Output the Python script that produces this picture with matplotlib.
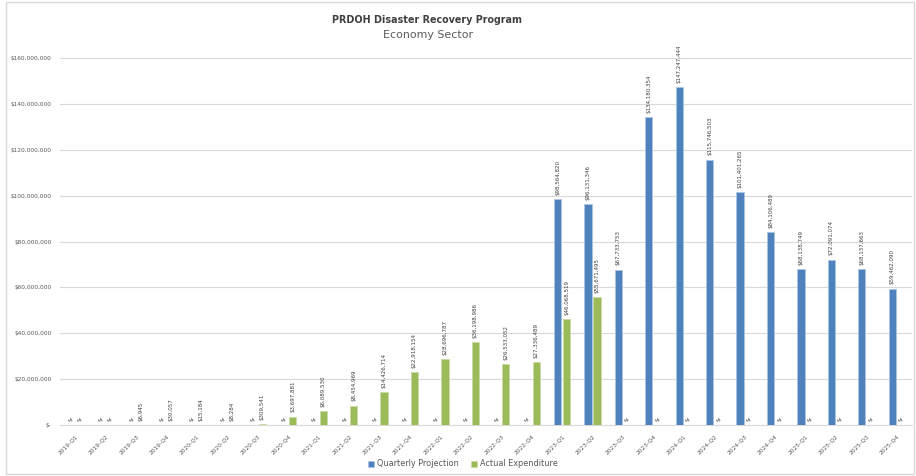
import matplotlib
matplotlib.use("Agg")
import matplotlib.pyplot as plt
from matplotlib.patches import Rectangle
import numpy as np

quarters = [f"{y}-Q{q}" for y in range(2019, 2026) for q in range(1, 5)]
projection = [0, 0, 0, 0, 0, 0, 0, 0, 0, 0, 0, 0, 0, 0, 0, 0,
              98564820, 96131346, 67733753, 134180354,
              147247444, 115746503, 101401265, 84106489,
              68138749, 72091074, 68137663, 59462090]
actual = [0, 0, 6945, 30057, 15184, 8284, 309541, 3697881,
          6089530, 8454969, 14426714, 22918154,
          28696787, 36198986, 26533052, 27336489,
          46068519, 55671495, 0, 0, 0, 0, 0, 0, 0, 0, 0, 0]
yticks = list(range(0, 160000001, 20000000))

BLUE = "#4F81BD"
GREEN = "#9BBB59"
TXT = "#595959"

plt.rcParams['font.family'] = ['DejaVu Sans']
fig = plt.figure(figsize=(9.16, 4.76), dpi=100)
ax = fig.add_axes([60/916, 1-425/476, 852/916, (425-58)/476])

x = np.arange(len(quarters))
w = 0.24
off = 0.15
b1 = ax.bar(x - off, projection, w, color=BLUE, edgecolor="#A9C4E6", linewidth=0.6,
            label="Quarterly Projection", zorder=3)
b2 = ax.bar(x + off, actual, w, color=GREEN, edgecolor="#C9DCA5", linewidth=0.6,
            label="Actual Expenditure", zorder=3)

def fmt(v):
    return "$-" if v == 0 else f"${v:,.0f}"

for bars, vals in ((b1, projection), (b2, actual)):
    for r, v in zip(bars, vals):
        ax.annotate(fmt(v), (r.get_x() + r.get_width()/2, v), xytext=(0, 3),
                    textcoords="offset points", rotation=90, ha="center", va="bottom",
                    fontsize=4, color="#404040", zorder=4)

ax.set_xlim(-0.5, len(quarters) - 0.5)
ax.set_ylim(0, 160000000)
ax.set_yticks(yticks)
ax.set_yticklabels([fmt(v) for v in yticks], fontsize=4.2, color=TXT)
ax.set_xticks(x)
ax.set_xticklabels(quarters, rotation=45, ha="right", rotation_mode="anchor",
                   fontsize=4.2, color=TXT)
ax.tick_params(axis="both", length=0, pad=6)
ax.grid(axis="y", color="#D9D9D9", linewidth=0.8, zorder=0)
for s in ("top", "right", "left"):
    ax.spines[s].set_visible(False)
ax.spines["bottom"].set_color("#D9D9D9")
ax.spines["bottom"].set_linewidth(0.8)

fig.text(427/916, 1-20/476, "PRDOH Disaster Recovery Program", ha="center", va="center",
         fontsize=6.9, fontweight="bold", color="#404040")
fig.text(428/916, 1-35/476, "Economy Sector", ha="center", va="center",
         fontsize=7.9, color="#595959")

fig.legend(handles=[b1, b2], labels=["Quarterly Projection", "Actual Expenditure"],
           loc="center", bbox_to_anchor=(463/916, 1-464/476), ncol=2, frameon=False,
           fontsize=5.9, handlelength=0.7, handleheight=0.7, columnspacing=1.4,
           handletextpad=0.4, labelcolor=TXT)

fig.patches.append(Rectangle((6/916, 2/476), 908/916, 472/476, transform=fig.transFigure,
                             fill=False, edgecolor="#D9D9D9", linewidth=1.0))

fig.savefig("out.png", dpi=100, facecolor="white")
